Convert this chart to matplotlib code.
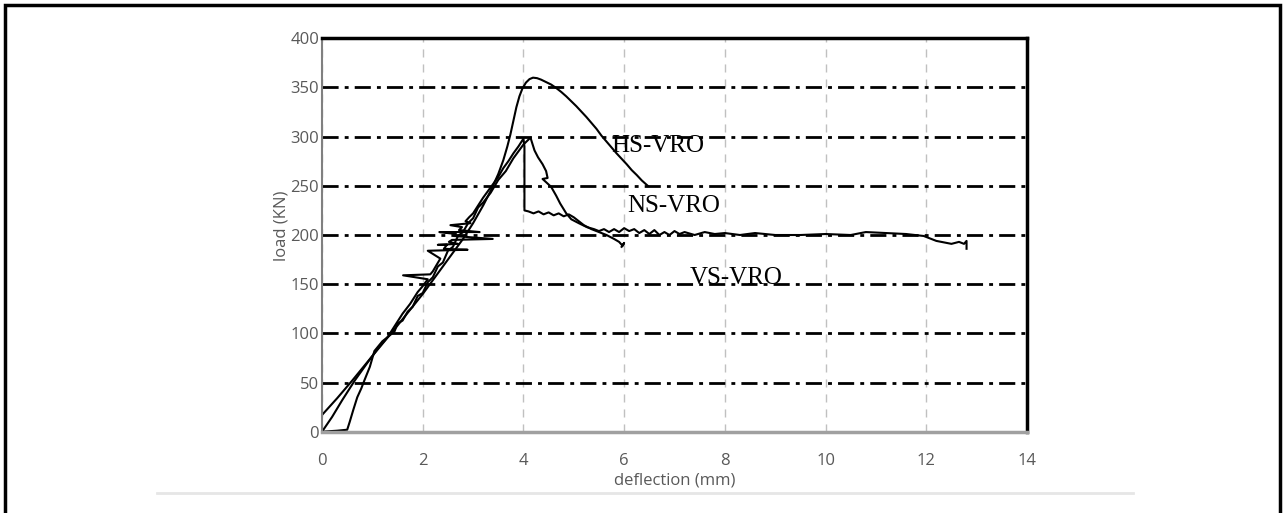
import matplotlib
matplotlib.use("Agg")
import matplotlib.pyplot as plt
from matplotlib.patches import Rectangle
from matplotlib.lines import Line2D

# HS-VRO : smooth curve
hs_x = [0, 0.3, 0.6, 1.0, 1.5, 2.0, 2.4, 2.8, 3.0, 3.2, 3.35, 3.5, 3.6, 3.68, 3.74,
        3.8, 3.86, 3.92, 3.98, 4.05, 4.12, 4.19, 4.27, 4.35, 4.45, 4.55, 4.65, 4.75,
        4.85, 4.95, 5.05, 5.15, 5.25, 5.35, 5.45, 5.55, 5.65, 5.75, 5.85, 5.95, 6.05,
        6.15, 6.25, 6.35, 6.47]
hs_y = [17, 34, 52, 77, 108, 140, 168, 196, 212, 230, 245, 262, 276, 290, 302,
        316, 330, 341, 349, 355, 358.5, 360, 359.5, 358, 355.5, 353, 349.5, 345.5,
        341, 336, 331, 325.5, 320, 314, 308, 301, 295, 289, 283, 277.5, 272,
        266, 261, 255.5, 250]

# VS-VRO : spiky rise, sudden drop after peak
vs_x = [0, 0.2, 0.4, 0.65, 0.9, 1.1, 1.3, 1.45, 1.6, 1.75, 1.9, 2.0, 2.1, 1.61,
        2.15, 2.2, 2.28, 2.35, 2.1, 2.89, 2.42, 2.48, 2.3, 2.7, 2.52, 2.58, 3.39,
        2.62, 2.66, 2.33, 3.13, 2.72, 2.78, 2.55, 2.95, 2.85, 2.92, 3.0, 3.1, 3.2,
        3.3, 3.4, 3.5, 3.6, 3.7, 3.8, 3.9, 4.0, 4.02, 4.02, 4.1, 4.2, 4.3, 4.4,
        4.5, 4.6, 4.7, 4.8, 4.9, 5.0, 5.1, 5.2, 5.35, 5.5, 5.65, 5.8, 5.9, 5.97,
        6.0, 5.95]
vs_y = [0, 15, 32, 52, 70, 84, 96, 108, 120, 130, 142, 148, 155, 159,
        160, 163, 170, 176, 184, 185, 186, 190, 190, 191, 193, 195, 196,
        199, 201, 203, 203, 205, 208, 210, 212, 214, 218, 222, 230, 238,
        245, 252, 259, 268, 275, 283, 290, 298, 290, 225, 224, 222, 224, 221,
        223, 220, 222, 219, 221, 218, 214, 210, 206, 203, 200, 196, 193, 189,
        192, 188]

# NS-VRO : starts at 0.5 mm, long plateau up to 12.8 mm
ns_x = [0, 0.3, 0.5, 0.55, 0.62, 0.7, 0.78, 0.84, 0.95, 1.04, 1.2, 1.3, 1.44, 1.5,
        1.6, 1.7, 1.8, 1.9, 2.0, 2.1, 2.2, 2.3, 2.4, 2.5, 2.6, 2.7, 2.8, 2.9, 3.0,
        3.1, 3.2, 3.35, 3.5, 3.65, 3.8, 3.9, 4.0, 4.14, 4.22, 4.29, 4.38, 4.45,
        4.48, 4.38, 4.55, 4.65, 4.73, 4.85, 4.95, 5.1, 5.26, 5.4, 5.5, 5.6, 5.7,
        5.8, 5.9, 6.0, 6.1, 6.2, 6.3, 6.4, 6.5, 6.6, 6.7, 6.8, 6.9, 7.0, 7.1,
        7.2, 7.4, 7.6, 7.8, 8.0, 8.3, 8.6, 9.0, 9.5, 10.0, 10.5, 10.8, 11.2,
        11.6, 11.95, 12.2, 12.5, 12.65, 12.75, 12.8, 12.8]
ns_y = [0, 1, 2, 10, 22, 35, 44, 52, 66, 82, 92, 96, 102, 110,
        113, 122, 127, 138, 141, 152, 157, 168, 172, 184, 188, 199, 203, 212, 217,
        228, 233, 243, 256, 265, 278, 285, 292, 299, 286, 279, 272, 265,
        258, 257, 249, 240, 232, 222, 216, 212, 208, 206, 204, 206, 203,
        206, 203, 207, 204, 206, 202, 205, 201, 205, 200, 203, 200, 204, 201,
        203, 200, 203, 201, 202, 200, 202, 200, 200, 201, 200, 203, 202,
        201, 199, 194, 191, 193, 191, 194, 186]

x_ticks = [0, 2, 4, 6, 8, 10, 12, 14]
y_ticks = [0, 50, 100, 150, 200, 250, 300, 350, 400]

fig = plt.figure(figsize=(12.85, 5.13), dpi=100)
ax = fig.add_axes([0.2506, 0.1585, 0.5486, 0.7668])

ax.plot(hs_x, hs_y, color="black", lw=1.5)
ax.plot(vs_x, vs_y, color="black", lw=1.5)
ax.plot(ns_x, ns_y, color="black", lw=1.5)

ax.set_xlim(0, 14)
ax.set_ylim(0, 400)
ax.set_xticks(x_ticks)
ax.set_yticks(y_ticks)
ax.set_axisbelow(True)
ax.xaxis.grid(True, color="#c0c0c0", lw=1, linestyle=(0, (5.8, 5.0)))
ax.yaxis.grid(True, color="black", lw=2, linestyle=(0, (5.8, 2.2, 1.4, 2.2)))

ax.tick_params(length=0, labelsize=12, labelcolor="#595959")
ax.tick_params(axis="x", pad=15)
ax.tick_params(axis="y", pad=2)
for lab in ax.get_xticklabels() + ax.get_yticklabels():
    lab.set_family("Open Sans")

ax.spines["top"].set_color("black")
ax.spines["top"].set_linewidth(2.5)
ax.spines["right"].set_color("black")
ax.spines["right"].set_linewidth(2.5)
ax.spines["left"].set_color("#808080")
ax.spines["left"].set_linewidth(1.5)
ax.spines["bottom"].set_color("#a0a0a0")
ax.spines["bottom"].set_linewidth(2.5)

ax.set_xlabel("deflection (mm)", family="Open Sans", fontsize=12, color="#595959")
ax.set_ylabel("load (KN)", family="Open Sans", fontsize=12, color="#595959")
ax.xaxis.set_label_coords(0.5, -0.105)
ax.yaxis.set_label_coords(-0.046, 0.523)

ax.text(5.75, 290, "HS-VRO", family="Liberation Serif", fontsize=18, va="center")
ax.text(6.07, 229, "NS-VRO", family="Liberation Serif", fontsize=18, va="center")
ax.text(7.30, 156, "VS-VRO", family="Liberation Serif", fontsize=18, va="center")

# outer frame and the thin grey rule under the chart
fig.patches.append(Rectangle((0.004, -0.2), 0.992, 1.19, transform=fig.transFigure,
                             fill=False, edgecolor="black", lw=2.5))
fig.lines.append(Line2D([157 / 1285, 1133 / 1285], [1 - 493 / 513, 1 - 493 / 513],
                        transform=fig.transFigure, color="#e6e6e6", lw=2))

fig.savefig("out.png", dpi=100)
